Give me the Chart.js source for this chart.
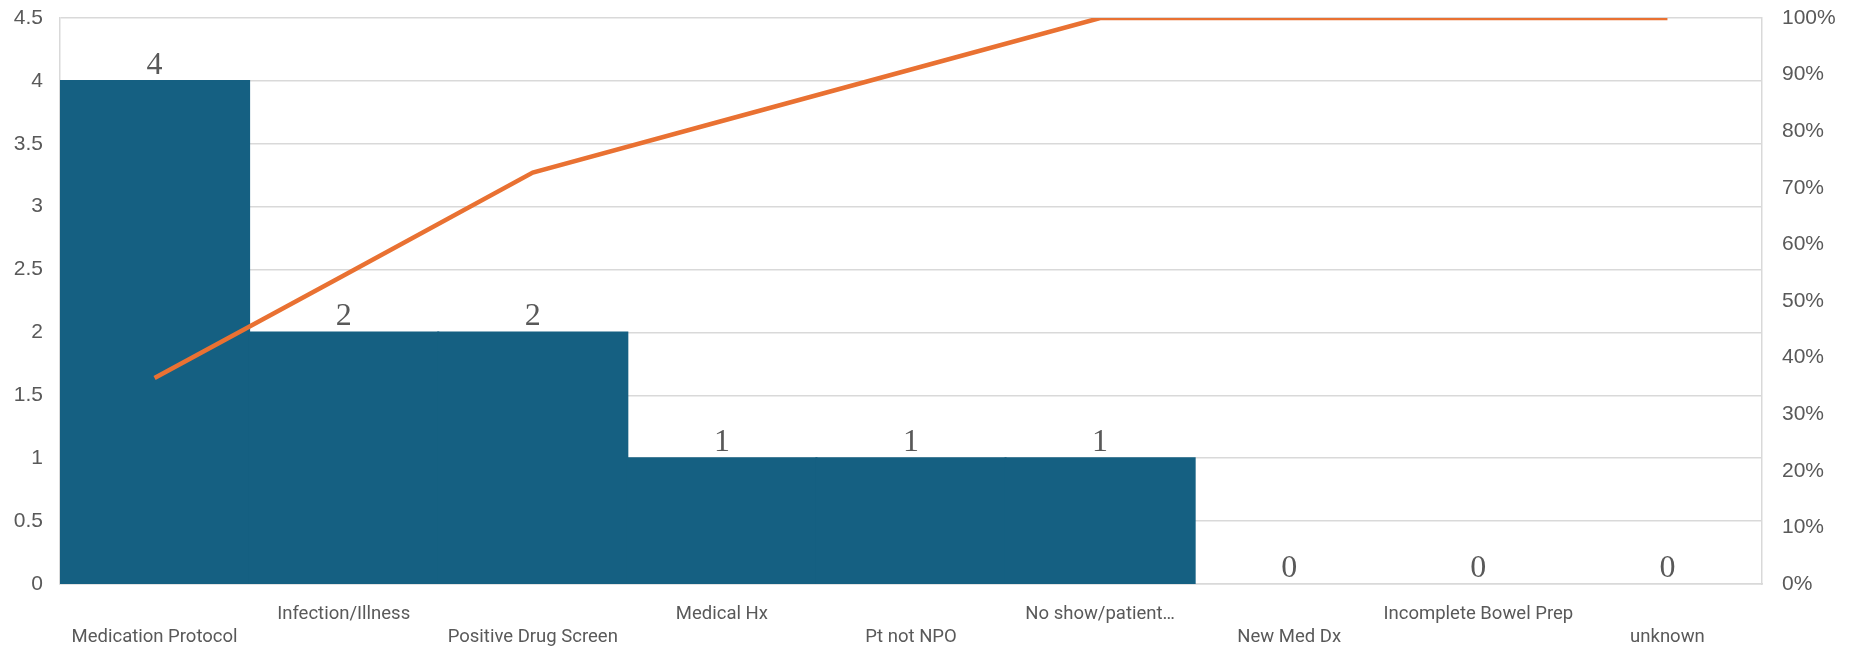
<!DOCTYPE html>
<html>
<head>
<meta charset="utf-8">
<script src="https://cdn.jsdelivr.net/npm/chart.js@4"></script>
<style>
  html, body { margin: 0; padding: 0; background: #ffffff; }
  #wrap { width: 1862px; height: 649px; position: relative; }
</style>
</head>
<body>
<div id="wrap"><canvas id="pareto"></canvas></div>
<script>
// Cancellation reasons and their counts
const categories = [
  'Medication Protocol', 'Infection/Illness', 'Positive Drug Screen',
  'Medical Hx', 'Pt not NPO', 'No show/patient\u2026',
  'New Med Dx', 'Incomplete Bowel Prep', 'unknown'
];
const counts = [4, 2, 2, 1, 1, 1, 0, 0, 0];
// Cumulative share of all cancellations
const cumulativeShare = [0.364, 0.545, 0.727, 0.818, 0.909, 1, 1, 1, 1];
// Axis ticks
const countTicks = [0, 0.5, 1, 1.5, 2, 2.5, 3, 3.5, 4, 4.5];
const shareTicks = [0, 0.1, 0.2, 0.3, 0.4, 0.5, 0.6, 0.7, 0.8, 0.9, 1];

const TEXT = '#595959';
const GRID = '#d9d9d9';
const BAR_COLOR = '#156082';
const BAR_DATASET = 1;

// Writes each bar's count just above it
const barValueLabels = {
  id: 'barValueLabels',
  afterDatasetsDraw(chart) {
    const meta = chart.getDatasetMeta(BAR_DATASET);
    const ctx = chart.ctx;
    ctx.save();
    ctx.font = '32px "Liberation Serif", "Times New Roman", serif';
    ctx.fillStyle = TEXT;
    ctx.textAlign = 'center';
    ctx.textBaseline = 'alphabetic';
    meta.data.forEach((bar, i) => {
      ctx.fillText(String(counts[i]), bar.x, bar.y - 7);
    });
    ctx.restore();
  }
};

// Fixed axis band sizes; vertical axes reserve no extra room above or below
function sideAxisFit(width) {
  return (scale) => {
    scale.width = width;
    scale.paddingTop = 0;
    scale.paddingBottom = 0;
  };
}

new Chart(document.getElementById('pareto'), {
  data: {
    labels: categories,
    datasets: [
      {
        type: 'line',
        data: cumulativeShare,
        yAxisID: 'y1',
        borderColor: '#E97132',
        borderWidth: 4.5,
        pointRadius: 0,
        tension: 0,
        order: 0
      },
      {
        type: 'bar',
        data: counts,
        yAxisID: 'y',
        // empty categories leave no sliver on the baseline
        backgroundColor: (c) => (c.raw > 0 ? BAR_COLOR : 'rgba(0,0,0,0)'),
        categoryPercentage: 1,
        barPercentage: 1,
        borderWidth: 0,
        inflateAmount: 1,
        order: 1
      }
    ]
  },
  options: {
    responsive: true,
    maintainAspectRatio: false,
    animation: false,
    layout: { padding: { top: 18, left: 0, right: 0, bottom: 0 } },
    plugins: {
      legend: { display: false },
      tooltip: { enabled: false }
    },
    scales: {
      x: {
        offset: true,
        grid: { display: false, drawTicks: false },
        border: { display: true, color: GRID, width: 1.5 },
        afterFit(scale) {
          scale.height = 65;
          scale.paddingLeft = 0;
          scale.paddingRight = 0;
        },
        ticks: {
          autoSkip: false,
          maxRotation: 0,
          minRotation: 0,
          padding: 19,
          color: TEXT,
          font: { family: 'Roboto, "Liberation Sans", sans-serif', size: 18.5, lineHeight: 1.25 },
          // alternate the category names between two rows
          callback(value, index) {
            const name = categories[index];
            return index % 2 ? [name, ''] : ['', name];
          }
        }
      },
      y: {
        position: 'left',
        min: 0,
        max: 4.5,
        afterFit: sideAxisFit(60),
        afterBuildTicks(scale) { scale.ticks = countTicks.map(v => ({ value: v })); },
        grid: { color: GRID, lineWidth: 1.5, drawTicks: false },
        border: { display: true, color: GRID, width: 1.5 },
        ticks: {
          padding: 17,
          color: TEXT,
          font: { family: '"Liberation Sans", Arial, sans-serif', size: 21 },
          callback(value) { return String(value); }
        }
      },
      y1: {
        position: 'right',
        min: 0,
        max: 1,
        afterFit: sideAxisFit(100),
        afterBuildTicks(scale) { scale.ticks = shareTicks.map(v => ({ value: v })); },
        grid: { display: false, drawTicks: false },
        border: { display: true, color: GRID, width: 1.5 },
        ticks: {
          padding: 20,
          color: TEXT,
          font: { family: '"Liberation Sans", Arial, sans-serif', size: 21 },
          callback(value) { return Math.round(value * 100) + '%'; }
        }
      }
    }
  },
  plugins: [barValueLabels]
});
</script>
</body>
</html>
